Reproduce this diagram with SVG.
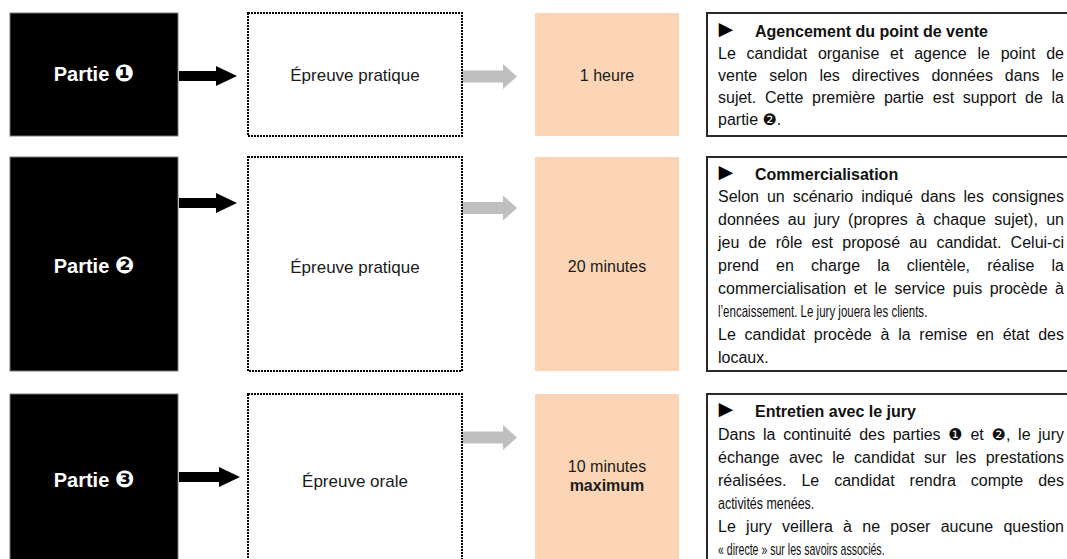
<svg xmlns="http://www.w3.org/2000/svg" width="1067" height="559" viewBox="0 0 1067 559">
<defs>
<style>
.black{fill:#000;stroke:#7a7a7a;stroke-width:1}
.dot{fill:#fff;stroke:#000;stroke-width:2;stroke-dasharray:2 1}
.peach{fill:#FBD5B5}
.desc{fill:#fff;stroke:#2a2a2a;stroke-width:2}
.lbl{font-family:"Liberation Sans",Arial,sans-serif;font-weight:bold;font-size:20px;fill:#fff;text-anchor:middle}
.dig{font-family:"DejaVu Sans",sans-serif}
.bigdig{font-family:"DejaVu Sans",sans-serif;font-size:23px}
.mid{font-family:"Liberation Sans",Arial,sans-serif;font-size:17px;fill:#1a1a1a;text-anchor:middle}
.dur{font-family:"Liberation Sans",Arial,sans-serif;font-size:16px;fill:#1a1a1a;text-anchor:middle}
.ttl{font-family:"Liberation Sans",Arial,sans-serif;font-weight:bold;font-size:16px;fill:#111}
.tri{font-family:"Liberation Sans",Arial,sans-serif;font-size:24px;fill:#000}
.body{font-family:"Liberation Sans",Arial,sans-serif;font-size:16px;fill:#111}
.ab{fill:#000}
.ag{fill:#BFBFBF}
</style>
<path id="arrB" d="M0,-5 H37 V-10 L58,0 L37,10 V5 H0 Z"/>
<path id="arrG" d="M0,-6 H41 V-12.5 L55,0 L41,12.5 V6 H0 Z"/>
</defs>
<rect width="1067" height="559" fill="#fff"/>

<g id="connectors">
<use href="#arrB" class="ab" transform="translate(179,76)"/>
<use href="#arrB" class="ab" transform="translate(179,203)"/>
<path class="ab" d="M179,472 H219 V467 L240,477 L219,487 V482 H179 Z"/>
<use href="#arrG" class="ag" transform="translate(462,76.5)"/>
<use href="#arrG" class="ag" transform="translate(462,208)"/>
<use href="#arrG" class="ag" transform="translate(462,437.5)"/>
</g>

<g id="partie1">
<rect class="black" x="10" y="13" width="168" height="123"/>
<text class="lbl" x="94" y="81">Partie <tspan class="bigdig">❶</tspan></text>
</g>
<g id="epreuve1">
<rect class="dot" x="248" y="13" width="214" height="123"/>
<text class="mid" x="355" y="81">Épreuve pratique</text>
</g>
<g id="duree1">
<rect class="peach" x="535" y="13" width="144" height="123"/>
<text class="dur" x="607" y="81">1 heure</text>
</g>
<g id="desc1">
<rect class="desc" x="707" y="13" width="380" height="123"/>
<text class="tri" x="714" y="37">►</text>
<text class="ttl" x="755" y="37">Agencement du point de vente</text>
<text class="body" x="718" y="59" style="word-spacing:6.3px" textLength="346" lengthAdjust="spacing">Le candidat organise et agence le point de</text>
<text class="body" x="718" y="81" style="word-spacing:7.5px" textLength="346" lengthAdjust="spacing">vente selon les directives données dans le</text>
<text class="body" x="718" y="103" style="word-spacing:4.3px" textLength="346" lengthAdjust="spacing">sujet. Cette première partie est support de la</text>
<text class="body" x="718" y="125">partie <tspan class="dig">❷</tspan>.</text>
</g>

<g id="partie2">
<rect class="black" x="10" y="157" width="168" height="214"/>
<text class="lbl" x="94" y="273">Partie <tspan class="bigdig">❷</tspan></text>
</g>
<g id="epreuve2">
<rect class="dot" x="248" y="157" width="214" height="214"/>
<text class="mid" x="355" y="273">Épreuve pratique</text>
</g>
<g id="duree2">
<rect class="peach" x="535" y="157" width="144" height="214"/>
<text class="dur" x="607" y="272">20 minutes</text>
</g>
<g id="desc2">
<rect class="desc" x="707" y="157" width="380" height="214"/>
<text class="tri" x="714" y="180">►</text>
<text class="ttl" x="755" y="180">Commercialisation</text>
<text class="body" x="718" y="202" style="word-spacing:3.5px" textLength="346" lengthAdjust="spacing">Selon un scénario indiqué dans les consignes</text>
<text class="body" x="718" y="225" style="word-spacing:3.9px" textLength="346" lengthAdjust="spacing">données au jury (propres à chaque sujet), un</text>
<text class="body" x="718" y="248" style="word-spacing:4.8px" textLength="346" lengthAdjust="spacing">jeu de rôle est proposé au candidat. Celui-ci</text>
<text class="body" x="718" y="271" style="word-spacing:12.7px" textLength="346" lengthAdjust="spacing">prend en charge la clientèle, réalise la</text>
<text class="body" x="718" y="294" style="word-spacing:3.1px" textLength="346" lengthAdjust="spacing">commercialisation et le service puis procède à</text>
<text class="body" transform="translate(718,317) scale(0.72,1)">l’encaissement. Le jury jouera les clients.</text>
<text class="body" x="718" y="340" style="word-spacing:4.3px" textLength="346" lengthAdjust="spacing">Le candidat procède à la remise en état des</text>
<text class="body" x="718" y="363">locaux.</text>
</g>

<g id="partie3">
<rect class="black" x="10" y="394" width="168" height="180"/>
<text class="lbl" x="94" y="487">Partie <tspan class="bigdig">❸</tspan></text>
</g>
<g id="epreuve3">
<rect class="dot" x="248" y="394" width="214" height="180"/>
<text class="mid" x="355" y="487">Épreuve orale</text>
</g>
<g id="duree3">
<rect class="peach" x="535" y="394" width="144" height="180"/>
<text class="dur" x="607" y="472">10 minutes</text>
<text class="dur" x="607" y="491" font-weight="bold">maximum</text>
</g>
<g id="desc3">
<rect class="desc" x="707" y="394" width="380" height="180"/>
<text class="tri" x="714" y="417">►</text>
<text class="ttl" x="755" y="417">Entretien avec le jury</text>
<text class="body" x="718" y="440" style="word-spacing:3.4px" textLength="346" lengthAdjust="spacing">Dans la continuité des parties <tspan class="dig">❶</tspan> et <tspan class="dig">❷</tspan>, le jury</text>
<text class="body" x="718" y="463" style="word-spacing:5px" textLength="346" lengthAdjust="spacing">échange avec le candidat sur les prestations</text>
<text class="body" x="718" y="486" style="word-spacing:10.5px" textLength="346" lengthAdjust="spacing">réalisées. Le candidat rendra compte des</text>
<text class="body" transform="translate(718,509) scale(0.78,1)">activités menées.</text>
<text class="body" x="718" y="532" style="word-spacing:5.8px" textLength="346" lengthAdjust="spacing">Le jury veillera à ne poser aucune question</text>
<text class="body" transform="translate(718,555) scale(0.66,1)">« directe » sur les savoirs associés.</text>
</g>
</svg>
